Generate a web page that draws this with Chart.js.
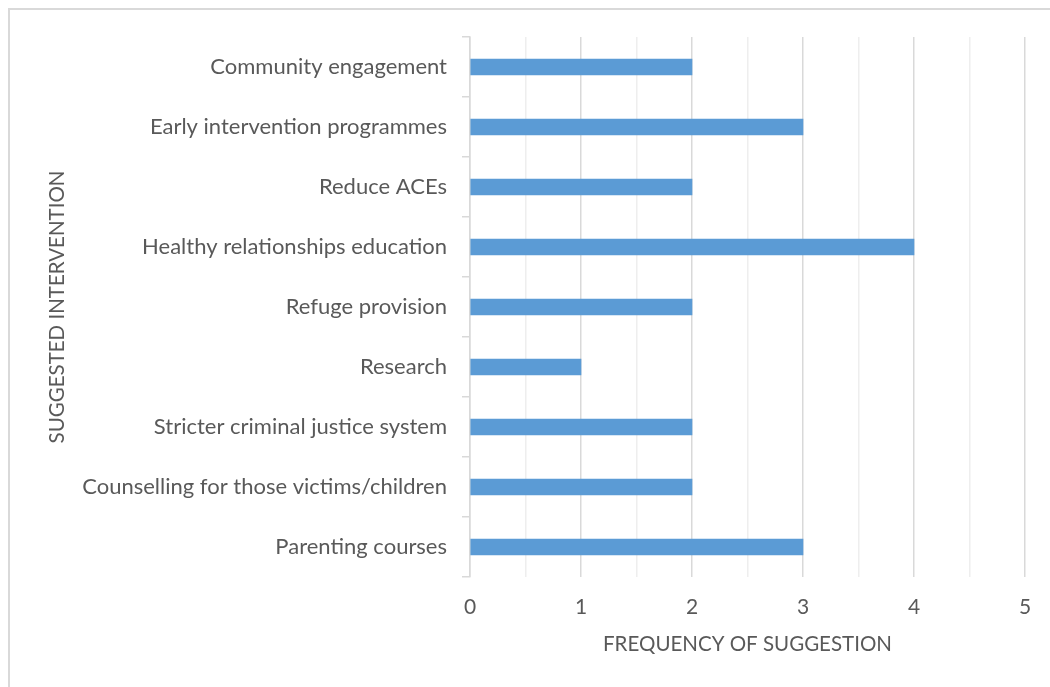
<!DOCTYPE html>
<html>
<head>
<meta charset="utf-8">
<script src="https://cdn.jsdelivr.net/npm/chart.js@4/dist/chart.umd.min.js"></script>
<style>
  html, body { margin: 0; padding: 0; background: #fff; overflow: hidden; }
  #frame {
    position: absolute; left: 8px; top: 8px; width: 1100px; height: 720px;
    border-top: 2px solid #d9d9d9; border-left: 2px solid #d9d9d9;
  }
  #wrap { position: absolute; left: 0; top: 0; width: 1050px; height: 687px; }
</style>
</head>
<body>
<div id="frame"></div>
<div id="wrap"><canvas id="chart" width="1050" height="687"></canvas></div>
<script>
'use strict';

// Interventions, top to bottom, with how often each was suggested
const interventions = [
  'Community engagement',
  'Early intervention programmes',
  'Reduce ACEs',
  'Healthy relationships education',
  'Refuge provision',
  'Research',
  'Stricter criminal justice system',
  'Counselling for those victims/children',
  'Parenting courses'
];
const frequency = [2, 3, 2, 4, 2, 1, 2, 2, 3];
const xTickValues = [0, 1, 2, 3, 4, 5];

const TEXT = '#595959';
const FONT = 'Lato, "Open Sans", sans-serif';

const ctx = document.getElementById('chart').getContext('2d');
new Chart(ctx, {
  type: 'bar',
  data: {
    labels: interventions,
    datasets: [{
      label: 'Frequency',
      data: frequency,
      backgroundColor: '#5b9bd5',
      borderWidth: 0,
      barThickness: 16
    }]
  },
  options: {
    indexAxis: 'y',
    responsive: false,
    animation: false,
    layout: { padding: { top: 37, left: 14, right: 25, bottom: 0 } },
    plugins: { legend: { display: false }, tooltip: { enabled: false } },
    scales: {
      x: {
        min: 0, max: 5,
        ticks: {
          // half steps give the light minor gridlines; only whole numbers get a label
          stepSize: 0.5,
          color: TEXT,
          font: { family: FONT, size: 21 },
          padding: 18,
          maxRotation: 0,
          callback: v => xTickValues.includes(v) ? String(v) : ''
        },
        grid: {
          drawTicks: false,
          color: c => Number.isInteger(c.tick.value) ? '#d9d9d9' : '#eeeeee',
          lineWidth: 1.5
        },
        border: { display: false },
        title: {
          display: true, text: 'FREQUENCY OF SUGGESTION', color: TEXT,
          font: { family: FONT, size: 20.5 }, padding: { top: 0, bottom: 30 }
        },
        afterFit: s => { s.height = 110; }
      },
      y: {
        ticks: {
          color: TEXT,
          font: { family: FONT, size: 22 },
          padding: 15
        },
        grid: {
          offset: true,
          drawOnChartArea: false,
          tickLength: 8,
          color: '#d9d9d9',
          lineWidth: 1.5
        },
        border: { display: true, color: '#d9d9d9', width: 1.5 },
        title: {
          display: true, text: 'SUGGESTED INTERVENTION', color: TEXT,
          font: { family: FONT, size: 20.5 }, padding: { top: 31, bottom: 0 }
        },
        afterFit: s => { s.width = 456; }
      }
    }
  }
});
</script>
</body>
</html>
